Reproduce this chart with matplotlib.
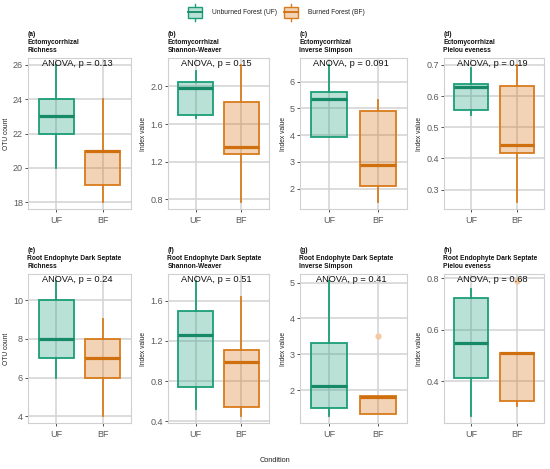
import numpy as np
import matplotlib
matplotlib.use("Agg")
import matplotlib.pyplot as plt
from matplotlib.patches import Rectangle
from matplotlib.colors import to_rgba

plt.rcParams['font.family'] = ['Liberation Sans', 'DejaVu Sans']

# данные: [нижний ус, Q1, медиана, Q3, верхний ус]
panel_tags = ['(a)', '(b)', '(c)', '(d)', '(e)', '(f)', '(g)', '(h)']
groups = ['Ectomycorrhizal'] * 4 + ['Root Endophyte Dark Septate'] * 4
metrics = ['Richness', 'Shannon-Weaver', 'Inverse Simpson', 'Pielou eveness'] * 2
ylabels = ['OTU count', 'Index value', 'Index value', 'Index value'] * 2
pvals = ['0.13', '0.15', '0.091', '0.19', '0.24', '0.51', '0.41', '0.68']
conditions = ['UF', 'BF']

uf_stats = [
    [20, 22, 23, 24, 26],
    [1.67, 1.70, 1.98, 2.05, 2.16],
    [3.93, 3.95, 5.37, 5.60, 6.63],
    [0.538, 0.556, 0.630, 0.638, 0.689],
    [6, 7, 8, 10, 11],
    [0.52, 0.743, 1.264, 1.50, 1.80],
    [1.28, 1.51, 2.12, 3.31, 5.05],
    [0.264, 0.413, 0.549, 0.724, 0.759],
]
bf_stats = [
    [18, 19, 21, 21, 24],
    [0.77, 1.28, 1.355, 1.83, 2.23],
    [1.5, 2.1, 2.88, 4.9, 5.3],
    [0.26, 0.419, 0.444, 0.633, 0.70],
    [4, 6, 7, 8, 9],
    [0.45, 0.545, 0.988, 1.106, 1.637],
    [1.33, 1.33, 1.82, 1.85, 1.85],
    [0.303, 0.325, 0.508, 0.51, 0.51],
]
bf_outliers = [[], [], [], [], [], [], [3.52], [0.79]]
yticks = [
    [18, 20, 22, 24, 26],
    [0.8, 1.2, 1.6, 2.0],
    [2, 3, 4, 5, 6],
    [0.3, 0.4, 0.5, 0.6, 0.7],
    [4, 6, 8, 10],
    [0.4, 0.8, 1.2, 1.6],
    [2, 3, 4, 5],
    [0.4, 0.6, 0.8],
]
tick_fmt = ['%d', '%.1f', '%d', '%.1f', '%d', '%.1f', '%d', '%.1f']

edge_cols = ['#1B9E77', '#D97B1C']
fill_cols = [to_rgba('#1B9E77', 0.3), to_rgba('#D9761C', 0.32)]
med_cols = ['#168A67', '#D06F0E']

W, H = 550, 469
fig = plt.figure(figsize=(5.5, 4.69), dpi=100)

lefts = [28, 168, 300, 444]
rights = [131, 269, 407, 544]
tops = [58, 274]
bottoms = [209, 423]

for i in range(8):
    r, c = divmod(i, 4)
    ax = fig.add_axes([lefts[c] / W, 1 - bottoms[r] / H,
                       (rights[c] - lefts[c]) / W, (bottoms[r] - tops[r]) / H])
    stats = []
    for s, fl in [(uf_stats[i], []), (bf_stats[i], bf_outliers[i])]:
        stats.append(dict(whislo=s[0], q1=s[1], med=s[2], q3=s[3], whishi=s[4], fliers=fl))
    bp = ax.bxp(stats, positions=[1, 2], widths=0.75, patch_artist=True,
                showcaps=False, manage_ticks=False)
    for k in range(2):
        bp['boxes'][k].set(facecolor=fill_cols[k], edgecolor=edge_cols[k], linewidth=1.3, zorder=3)
        bp['medians'][k].set(color=med_cols[k], linewidth=2.3, zorder=4)
        for w in bp['whiskers'][2 * k:2 * k + 2]:
            w.set(color=edge_cols[k], linewidth=1.3, zorder=2.5)
        bp['fliers'][k].set(marker='o', markerfacecolor='#F2C9A0', markeredgecolor='none',
                            markersize=4.5)

    # пределы как в ggplot: размах данных + 5%
    vals = uf_stats[i] + bf_stats[i] + bf_outliers[i]
    lo, hi = min(vals), max(vals)
    pad = 0.05 * (hi - lo)
    ax.set_ylim(lo - pad, hi + pad)
    ax.set_xlim(0.4, 2.6)

    ax.set_xticks([1, 2])
    ax.set_xticklabels(conditions)
    ax.set_yticks(yticks[i])
    ax.set_yticklabels([tick_fmt[i] % v for v in yticks[i]])
    ax.tick_params(axis='both', length=2.2, width=0.6, color='#333333',
                   labelcolor='#5A5A5A', labelsize=6.5, pad=1.5)
    ax.tick_params(axis='x', pad=3)
    ax.grid(True, color='#D2D2D2', linewidth=1.1)
    ax.set_axisbelow(True)
    for sp in ax.spines.values():
        sp.set_color('#D0D0D0')
        sp.set_linewidth(0.8)
    ax.set_ylabel(ylabels[i], fontsize=4.8, color='#222222', labelpad=2)

    ax.text(0.48, 0.965, 'ANOVA, p = ' + pvals[i], transform=ax.transAxes,
            ha='center', va='center', fontsize=6.7, color='#111111', zorder=6)
    ax.annotate(panel_tags[i] + '\n' + groups[i] + '\n' + metrics[i],
                xy=(0, 1), xycoords='axes fraction', xytext=(-0.5, 3),
                textcoords='offset points', ha='left', va='bottom',
                fontsize=4.8, fontweight='bold', linespacing=1.15, color='#111111')

# легенда сверху
lax = fig.add_axes([0, 1 - 28 / H, 1, 28 / H])
lax.set_xlim(0, W)
lax.set_ylim(28, 0)
lax.axis('off')
leg_x = [188, 284]
leg_text = ['Unburned Forest (UF)', 'Burned Forest (BF)']
for k in range(2):
    x0 = leg_x[k]
    lax.plot([x0 + 7, x0 + 7], [4, 21], color=edge_cols[k], lw=1.0)
    lax.add_patch(Rectangle((x0, 7), 14, 11, facecolor='white', edgecolor='none', zorder=2.9))
    lax.add_patch(Rectangle((x0, 7), 14, 11, facecolor=fill_cols[k],
                            edgecolor=edge_cols[k], lw=1.0, zorder=3))
    lax.plot([x0, x0 + 14], [12.5, 12.5], color=med_cols[k], lw=1.3, zorder=4)
    lax.text(x0 + 24, 13, leg_text[k], fontsize=4.8, va='center', ha='left', color='#222222')

fig.text(0.5, 1 - 460 / H, 'Condition', ha='center', va='center', fontsize=5.3, color='#222222')

fig.savefig('out.png', dpi=100)
